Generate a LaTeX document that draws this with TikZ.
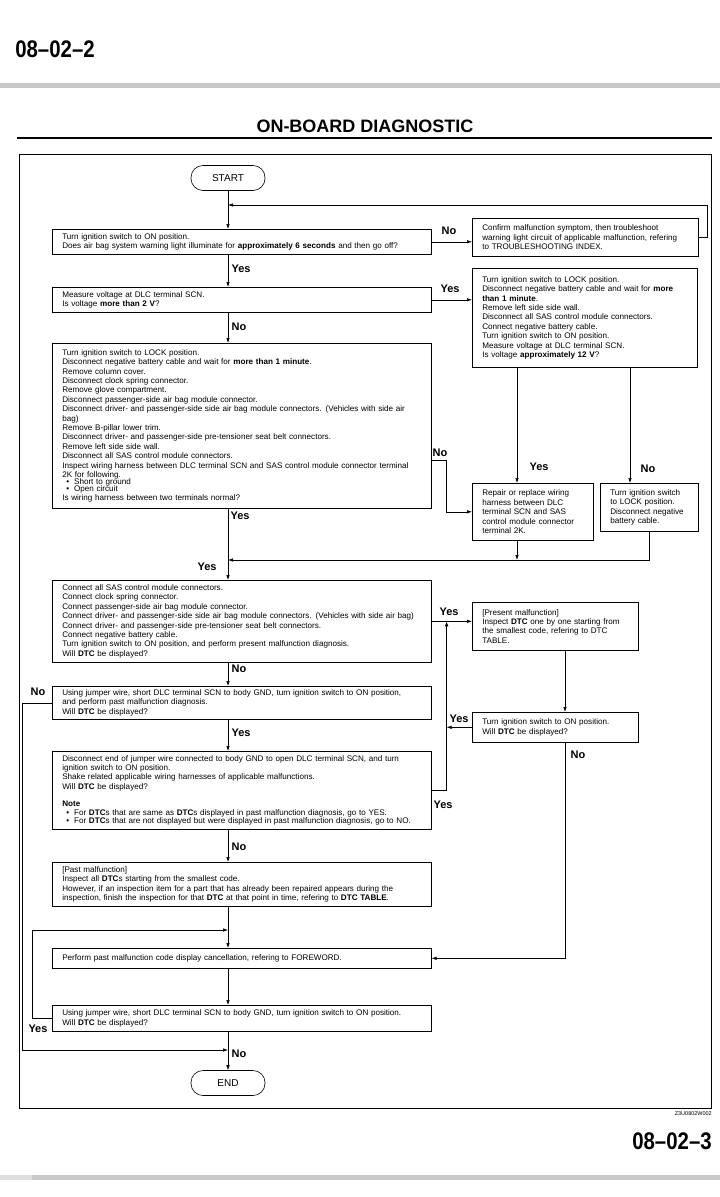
\documentclass[tikz,border=0pt]{standalone}
\usepackage{fontspec}
\setmainfont{Liberation Sans}
\usetikzlibrary{calc}
\usetikzlibrary{arrows.meta}
\definecolor{band1}	{RGB}{200,200,200}
\definecolor{band2}	{RGB}{222,222,222}
\newcommand{\fcbul}{\hspace*{4pt}\textbullet\hspace{5pt}}
\tikzstyle{fcbox}=	[draw, line width=0.6pt, anchor=north west, align=left, inner xsep=10pt, inner ysep=3pt, font=\fontsize{8.1}{9.4}\selectfont]
\tikzstyle{wbox}=	[fcbox, text width=359pt]
\tikzstyle{term}=	[draw, line width=0.6pt, rounded corners=12pt, minimum width=74pt, minimum height=25pt, font=\fontsize{10}{11}\selectfont]
\tikzstyle{lbl}=	[inner sep=0pt, font=\bfseries\fontsize{11}{12}\selectfont]
\tikzstyle{conn}=	[line width=0.6pt]
\tikzstyle{arr}=	[conn, -{Latex[length=5pt,width=3.5pt]}]
\tikzstyle{head}=	[inner sep=0pt, font=\bfseries\fontsize{24}{26}\selectfont]

\begin{document}
\begin{tikzpicture}[x=1pt,y=-1pt]
	\useasboundingbox (0,0) rectangle (720,1197);

	%%% page frame
	\node[head] (pg1) at (55,49) {\scalebox{0.85}[1]{08--02--2}};
	\fill[band1] (0,83) rectangle (720,88);
	\node[inner sep=0pt, font=\bfseries\fontsize{18}{20}\selectfont] (title) at (365,126) {ON-BOARD DIAGNOSTIC};
	\draw[line width=1.6pt] (17,138) -- (712,138);
	\draw[line width=0.8pt] (19,154) rectangle (711,1108);
	\node[anchor=east, inner sep=0pt, font=\fontsize{5.5}{6}\selectfont] (code) at (712,1114) {Z3U0802W002};
	\node[head] (pg2) at (672,1141) {\scalebox{0.85}[1]{08--02--3}};
	\fill[band1] (0,1175) rectangle (720,1180);
	\fill[band2] (0,1175) rectangle (32,1180);

	%%% main column
	% nodes
	\node[term] 				(start) at (228,178) 	{START};
	\node[wbox, minimum height=25pt] 	(b1) at (52,229) 	{Turn ignition switch to ON position.\\Does air bag system warning light illuminate for \textbf{approximately 6 seconds} and then go off?};
	\node[wbox, minimum height=25pt] 	(b2) at (52,287) 	{Measure voltage at DLC terminal SCN.\\Is voltage \textbf{more than 2 V}?};
	\node[wbox, minimum height=165pt] 	(b4) at (52,343) 	{Turn ignition switch to LOCK position.\\Disconnect negative battery cable and wait for \textbf{more than 1 minute}.\\Remove column cover.\\Disconnect clock spring connector.\\Remove glove compartment.\\Disconnect passenger-side air bag module connector.\\Disconnect driver- and passenger-side side air bag module connectors. (Vehicles with side air\\bag)\\Remove B-pillar lower trim.\\Disconnect driver- and passenger-side pre-tensioner seat belt connectors.\\Remove left side side wall.\\Disconnect all SAS control module connectors.\\Inspect wiring harness between DLC terminal SCN and SAS control module connector terminal\\2K for following.\\[-2.5pt]\fcbul Short to ground\\[-2.5pt]\fcbul Open circuit\\Is wiring harness between two terminals normal?};
	\node[wbox, minimum height=82pt] 	(b5) at (52,580) 	{Connect all SAS control module connectors.\\Connect clock spring connector.\\Connect passenger-side air bag module connector.\\Connect driver- and passenger-side side air bag module connectors. (Vehicles with side air bag)\\Connect driver- and passenger-side pre-tensioner seat belt connectors.\\Connect negative battery cable.\\Turn ignition switch to ON position, and perform present malfunction diagnosis.\\Will \textbf{DTC} be displayed?};
	\node[wbox, minimum height=33pt] 	(b6) at (52,686) 	{Using jumper wire, short DLC terminal SCN to body GND, turn ignition switch to ON position,\\and perform past malfunction diagnosis.\\Will \textbf{DTC} be displayed?};
	\node[wbox, minimum height=78pt] 	(b7) at (52,751) 	{Disconnect end of jumper wire connected to body GND to open DLC terminal SCN, and turn\\ignition switch to ON position.\\Shake related applicable wiring harnesses of applicable malfunctions.\\Will \textbf{DTC} be displayed?\\[8pt]\textbf{Note}\\[-0.8pt]\fcbul For \textbf{DTC}s that are same as \textbf{DTC}s displayed in past malfunction diagnosis, go to YES.\\[-0.8pt]\fcbul For \textbf{DTC}s that are not displayed but were displayed in past malfunction diagnosis, go to NO.};
	\node[wbox, minimum height=44pt] 	(b8) at (52,862) 	{[Past malfunction]\\Inspect all \textbf{DTC}s starting from the smallest code.\\However, if an inspection item for a part that has already been repaired appears during the\\inspection, finish the inspection for that \textbf{DTC} at that point in time, refering to \textbf{DTC TABLE}.};
	\node[wbox, minimum height=20pt] 	(b9) at (52,948) 	{Perform past malfunction code display cancellation, refering to FOREWORD.};
	\node[wbox, minimum height=26pt] 	(b10) at (52,1005) 	{Using jumper wire, short DLC terminal SCN to body GND, turn ignition switch to ON position.\\Will \textbf{DTC} be displayed?};
	\node[term] 				(end) at (228,1083) 	{END};

	%%% right column
	% nodes
	\node[fcbox, text width=206pt, minimum height=38pt] 	(conf) at (472,218) 	{Confirm malfunction symptom, then troubleshoot\\warning light circuit of applicable malfunction, refering\\to TROUBLESHOOTING INDEX.};
	\node[fcbox, text width=205pt, minimum height=99pt] 	(b3) at (472,268) 	{Turn ignition switch to LOCK position.\\Disconnect negative battery cable and wait for \textbf{more}\\\textbf{than 1 minute}.\\Remove left side side wall.\\Disconnect all SAS control module connectors.\\Connect negative battery cable.\\Turn ignition switch to ON position.\\Measure voltage at DLC terminal SCN.\\Is voltage \textbf{approximately 12 V}?};
	\node[fcbox, text width=101pt, minimum height=57pt] 	(rep) at (472,483) 	{Repair or replace wiring\\harness between DLC\\terminal SCN and SAS\\control module connector\\terminal 2K.};
	\node[fcbox, text width=78pt, minimum height=48pt] 	(lck) at (600,483) 	{Turn ignition switch\\to LOCK position.\\Disconnect negative\\battery cable.};
	\node[fcbox, text width=146pt, minimum height=48pt] 	(pres) at (472,602) 	{[Present malfunction]\\Inspect \textbf{DTC} one by one starting from\\the smallest code, refering to DTC\\TABLE.};
	\node[fcbox, text width=146pt, minimum height=30pt] 	(ton) at (472,712) 	{Turn ignition switch to ON position.\\Will \textbf{DTC} be displayed?};

	% joints
	\coordinate (m0) at (228,205);
	\coordinate (m1) at (228,560);
	\coordinate (m2) at (228,1050);
	\coordinate (m3) at (228,930);
	\coordinate (rail) at ([xshift=15pt]b5.east);

	%%% connectors
	% main column
	\draw[arr] (start.south) -- (start |- b1.north);
	\draw[arr] (start |- b1.south) -- (start |- b2.north);
	\draw[arr] (start |- b2.south) -- (start |- b4.north);
	\draw[arr] (start |- b4.south) -- (start |- b5.north);
	\draw[arr] (start |- b5.south) -- (start |- b6.north);
	\draw[arr] (start |- b6.south) -- (start |- b7.north);
	\draw[arr] (start |- b7.south) -- (start |- b8.north);
	\draw[arr] (start |- b8.south) -- (start |- b9.north);
	\draw[arr] (start |- b9.south) -- (start |- b10.north);
	\draw[arr] (start |- b10.south) -- (end.north);

	% branches to the right
	\draw[arr] (b1.east) -- (b1.east -| conf.west);
	\draw[arr] (conf.east) -- ++(9,0) |- (m0);
	\draw[arr] (b2.east) -- (b2.east -| b3.west);
	\draw[arr] ([xshift=45pt]b3.south west) -- ([xshift=45pt]rep.north west);
	\draw[arr] ([xshift=158pt]b3.south west) -- ([xshift=30pt]lck.north west);
	\draw[arr] ([yshift=48pt]b4.south east) -- ++(15,0) |- (rep.west);
	\draw[arr] ([xshift=45pt]rep.south west) -- ([xshift=45pt]rep.south west |- m1);
	\draw[arr] (lck.south) |- (m1);
	\draw[arr] (b5.east) -- (b5.east -| pres.west);
	\draw[arr] ([xshift=93pt]pres.south west) -- ([xshift=93pt]ton.north west);
	\draw[arr] (ton.west) -- (ton.west -| rail);
	\draw[arr] (b7.east) -| (rail);
	\draw[arr] ([xshift=93pt]ton.south west) |- (b9.east);

	% loops on the left
	\draw[arr] (b6.west) -- ++(-30,0) |- (m2);
	\draw[arr] (b10.west) -- ++(-20,0) |- (m3);

	%%% labels
	\node[lbl] (l1) at (449,231) {No};
	\node[lbl] (l2) at (241,269) {Yes};
	\node[lbl] (l3) at (450,289) {Yes};
	\node[lbl] (l4) at (239,327) {No};
	\node[lbl] (l5) at (440,453) {No};
	\node[lbl] (l6) at (539,467) {Yes};
	\node[lbl] (l7) at (648,469) {No};
	\node[lbl] (l8) at (240,516) {Yes};
	\node[lbl] (l9) at (207,567) {Yes};
	\node[lbl] (l10) at (449,612) {Yes};
	\node[lbl] (l11) at (239,669) {No};
	\node[lbl] (l12) at (38,692) {No};
	\node[lbl] (l13) at (459,719) {Yes};
	\node[lbl] (l14) at (241,733) {Yes};
	\node[lbl] (l15) at (578,755) {No};
	\node[lbl] (l16) at (443,805) {Yes};
	\node[lbl] (l17) at (239,847) {No};
	\node[lbl] (l18) at (38,1029) {Yes};
	\node[lbl] (l19) at (239,1054) {No};

\end{tikzpicture}
\end{document}
